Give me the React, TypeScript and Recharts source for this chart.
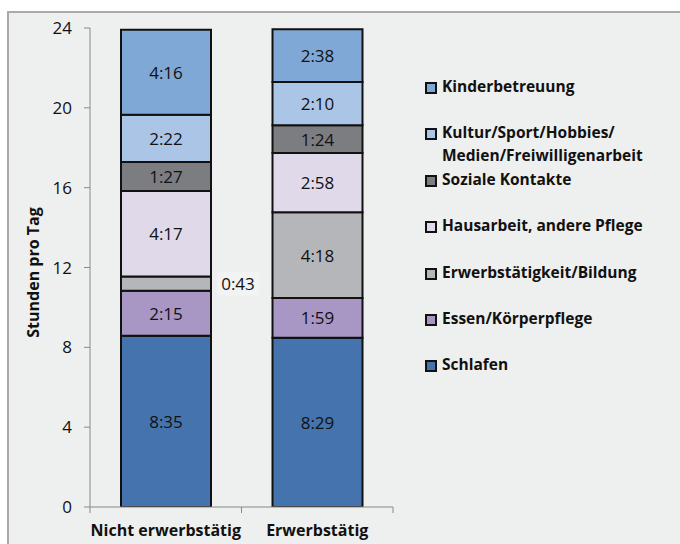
import React from "react";
import { BarChart, Bar, XAxis, YAxis, LabelList, Legend } from "recharts";

// Data: durations per category (H:MM)
const categories = ["Nicht erwerbstätig", "Erwerbstätig"];
const schlafen = ["8:35", "8:29"];
const essen = ["2:15", "1:59"];
const erwerb = ["0:43", "4:18"];
const hausarbeit = ["4:17", "2:58"];
const soziale = ["1:27", "1:24"];
const kultur = ["2:22", "2:10"];
const kinder = ["4:16", "2:38"];
const yTicks = [0, 4, 8, 12, 16, 20, 24];

const seriesNames = [
  "Schlafen",
  "Essen/Körperpflege",
  "Erwerbstätigkeit/Bildung",
  "Hausarbeit, andere Pflege",
  "Soziale Kontakte",
  "Kultur/Sport/Hobbies/ Medien/Freiwilligenarbeit",
  "Kinderbetreuung",
];
const seriesValues = [schlafen, essen, erwerb, hausarbeit, soziale, kultur, kinder];
const seriesColors = ["#4573ad", "#a896c5", "#b5b6b9", "#e0d9e9", "#7c7d81", "#aac5e5", "#7fa8d6"];
const keys = ["s0", "s1", "s2", "s3", "s4", "s5", "s6"];

const toHours = (t: string) => {
  const [h, m] = t.split(":").map(Number);
  return h + m / 60;
};

const data = categories.map((c, i) => {
  const row: any = { name: c };
  seriesValues.forEach((arr, k) => {
    row[keys[k]] = toHours(arr[i]);
  });
  return row;
});

const FONT = "'Open Sans', sans-serif";

const makeLabel = (k: number) => (props: any) => {
  const { x, y, width, height, index } = props;
  const text = seriesValues[k][index];
  const v = toHours(text);
  if (v < 1) {
    const cx = x + width + 27;
    const cy = y + height / 2;
    return (
      <g>
        <rect x={cx - 21} y={cy - 12} width={42} height={24} fill="#f2f3f3" />
        <text x={cx} y={cy} textAnchor="middle" dominantBaseline="central" fontFamily={FONT} fontSize={17} fill="#111">
          {text}
        </text>
      </g>
    );
  }
  return (
    <text x={x + width / 2} y={y + height / 2} textAnchor="middle" dominantBaseline="central" fontFamily={FONT} fontSize={17} fill="#111">
      {text}
    </text>
  );
};

const XTick = (props: any) => {
  const { x, y, payload, index } = props;
  const half = 75.75;
  return (
    <g>
      {index === 0 && <line x1={x - half} y1={y} x2={x - half} y2={y + 6} stroke="#888" />}
      <line x1={x + half} y1={y} x2={x + half} y2={y + 6} stroke="#888" />
      <text x={x} y={y + 23} textAnchor="middle" dominantBaseline="central" fontFamily={FONT} fontWeight="bold" fontSize={16} fill="#111">
        {payload.value}
      </text>
    </g>
  );
};

const YLabel = (props: any) => {
  const { viewBox } = props;
  const cx = viewBox.x + 3;
  const cy = viewBox.y + viewBox.height / 2 + 5;
  return (
    <text x={cx} y={cy} transform={`rotate(-90 ${cx} ${cy})`} textAnchor="middle" dominantBaseline="central" fontFamily={FONT} fontWeight="bold" fontSize={16} fill="#111">
      Stunden pro Tag
    </text>
  );
};

const LegendContent = () => {
  const order = [6, 5, 4, 3, 2, 1, 0];
  return (
    <div style={{ position: "relative", width: 260, height: 320 }}>
      {order.map((k, i) => {
        const lines = seriesNames[k].split(" Medien");
        return (
          <div key={k} style={{ position: "absolute", left: 0, top: i * 46.4, display: "flex", alignItems: "flex-start" }}>
            <div style={{ width: 8, height: 8, border: "2px solid #111", background: seriesColors[k], marginTop: 1, marginRight: 5, flex: "none" }} />
            <div style={{ fontFamily: FONT, fontWeight: "bold", fontSize: 15.5, lineHeight: "23px", color: "#111", whiteSpace: "nowrap", marginTop: -6 }}>
              {lines.length > 1 ? (
                <>
                  {lines[0]}
                  <br />
                  {"Medien" + lines[1]}
                </>
              ) : (
                seriesNames[k]
              )}
            </div>
          </div>
        );
      })}
    </div>
  );
};

export default function App() {
  return (
    <div style={{ position: "absolute", left: 0, top: 0, width: 680, height: 544, overflow: "hidden", background: "#ffffff" }}>
      <div style={{ position: "absolute", left: 7, top: 11, width: 700, height: 600, border: "2px solid #a9a9a9", background: "#eeefef" }} />
      <div style={{ position: "absolute", left: 0, top: 0 }}>
        <BarChart width={680} height={544} data={data} margin={{ top: 28, right: 287, bottom: 7, left: 30 }} barSize={90}>
          <YAxis
            domain={[0, 24]}
            ticks={yTicks}
            width={60}
            axisLine={{ stroke: "#888" }}
            tickLine={{ stroke: "#888" }}
            tickMargin={12}
            tick={{ fontFamily: FONT, fontSize: 17, fill: "#111" }}
            label={<YLabel />}
            allowDataOverflow
          />
          <XAxis dataKey="name" height={30} axisLine={{ stroke: "#888" }} tickLine={false} tickSize={0} tickMargin={0} tick={<XTick />} interval={0} />
          <Legend layout="vertical" verticalAlign="middle" align="center" content={<LegendContent />} wrapperStyle={{ position: "absolute", left: 425, top: 81, width: 260, height: 320 }} />
          {keys.map((key, k) => (
            <Bar key={key} dataKey={key} name={seriesNames[k]} stackId="a" fill={seriesColors[k]} stroke="#111" strokeWidth={2} isAnimationActive={false}>
              <LabelList dataKey={key} content={makeLabel(k)} />
            </Bar>
          ))}
        </BarChart>
      </div>
    </div>
  );
}
